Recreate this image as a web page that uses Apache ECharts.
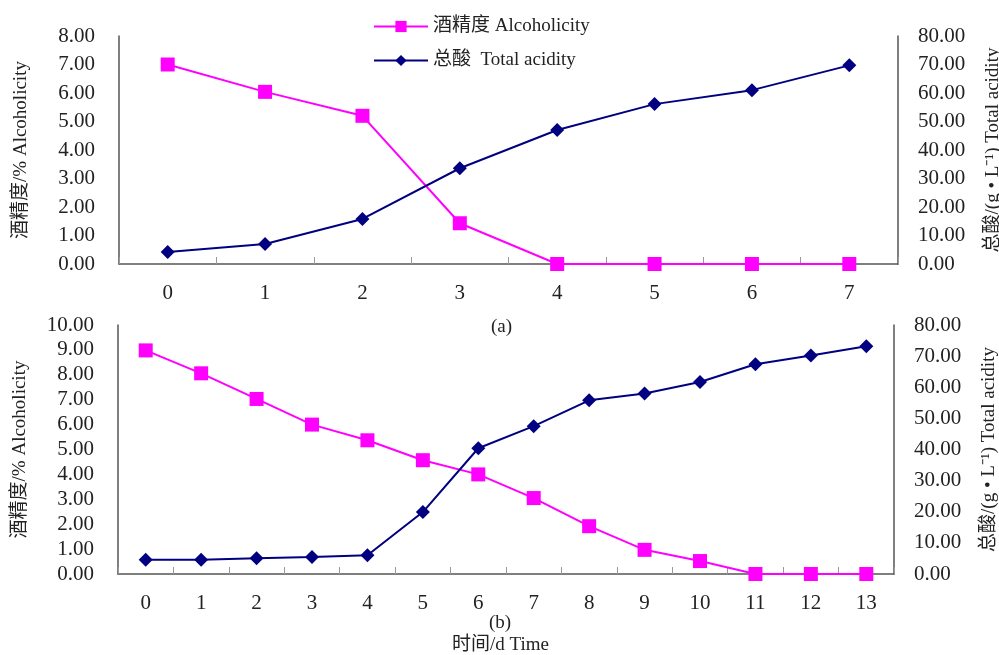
<!DOCTYPE html>
<html>
<head>
<meta charset="utf-8">
<script src="https://cdn.jsdelivr.net/npm/echarts@6/dist/echarts.min.js"></script>
<style>
html,body{margin:0;padding:0;background:#fff;}
#c{width:999px;height:655px;}
</style>
</head>
<body>
<div id="c"></div>
<script>
// Chart (a)
var daysA = ['0','1','2','3','4','5','6','7'];
var alcoholA = [7.00, 6.04, 5.20, 1.43, 0, 0, 0, 0];
var acidityA = [4.2, 7.0, 15.8, 33.6, 47.0, 56.1, 61.0, 69.7];
// Chart (b)
var daysB = ['0','1','2','3','4','5','6','7','8','9','10','11','12','13'];
var alcoholB = [8.98, 8.06, 7.03, 6.00, 5.37, 4.57, 4.00, 3.05, 1.92, 0.97, 0.52, 0, 0, 0];
var acidityB = [4.6, 4.6, 5.1, 5.5, 6.0, 19.9, 40.4, 47.5, 55.8, 58.0, 61.7, 67.4, 70.2, 73.2];
// tick settings
var leftMaxA = 8, leftMaxB = 10, rightMax = 80;

var nameAlc = '酒精度 Alcoholicity';
var nameAcid = '总酸  Total acidity';

var FONT = '"Liberation Serif", "Noto Sans CJK SC", serif';
var axisColor = '#555';
var txt = '#222';

function xAx(idx, data) {
  return {
    type: 'category', gridIndex: idx, data: data, boundaryGap: true,
    axisLine: {show: true, lineStyle: {color: axisColor, width: 1.5}},
    axisTick: {show: true, inside: true, length: 7, lineStyle: {color: '#999'}},
    axisLabel: {color: txt, fontFamily: FONT, fontSize: 21, margin: 19},
    splitLine: {show: false}
  };
}
function yAx(idx, max, interval, pos, name, gap) {
  return {
    type: 'value', gridIndex: idx, min: 0, max: max, interval: interval, position: pos,
    name: name, nameLocation: 'middle', nameGap: gap, nameRotate: 90,
    nameTextStyle: {color: txt, fontFamily: FONT, fontSize: 19},
    axisLine: {show: true, lineStyle: {color: axisColor, width: 1.5}},
    axisTick: {show: false},
    axisLabel: {color: txt, fontFamily: FONT, fontSize: 21, margin: pos === 'left' ? 24 : 20,
      formatter: function (v) { return v.toFixed(2); }},
    splitLine: {show: false}
  };
}
function lineS(name, xi, yi, data, color, symbol, size) {
  return {
    name: name, type: 'line', xAxisIndex: xi, yAxisIndex: yi, data: data,
    symbol: symbol, symbolSize: size, showSymbol: true,
    lineStyle: {color: color, width: 2}, itemStyle: {color: color},
    emphasis: {disabled: true}, animation: false, z: symbol === 'rect' ? 3 : 4
  };
}

var chart = echarts.init(document.getElementById('c'), null, {renderer: 'canvas'});
chart.setOption({
  backgroundColor: '#fff',
  animation: false,
  legend: {
    orient: 'vertical', left: 368, top: 12, itemWidth: 54, itemHeight: 14, itemGap: 15,
    textStyle: {color: txt, fontFamily: FONT, fontSize: 19},
    data: [nameAlc, nameAcid]
  },
  grid: [
    {left: 119, right: 101, top: 36, height: 228, containLabel: false, outerBoundsMode: 'none'},
    {left: 118, right: 105, top: 325, height: 249, containLabel: false, outerBoundsMode: 'none'}
  ],
  xAxis: [xAx(0, daysA), xAx(1, daysB)],
  yAxis: [
    yAx(0, leftMaxA, 1, 'left', '酒精度/% Alcoholicity', 88),
    yAx(0, rightMax, 10, 'right', '总酸/(g • L⁻¹) Total acidity', 86),
    yAx(1, leftMaxB, 1, 'left', '酒精度/% Alcoholicity', 88),
    yAx(1, rightMax, 10, 'right', '总酸/(g • L⁻¹) Total acidity', 86)
  ],
  series: [
    lineS(nameAlc, 0, 0, alcoholA, '#FF00FF', 'rect', 14),
    lineS(nameAcid, 0, 1, acidityA, '#000080', 'diamond', 14),
    lineS(nameAlc, 1, 2, alcoholB, '#FF00FF', 'rect', 14),
    lineS(nameAcid, 1, 3, acidityB, '#000080', 'diamond', 14)
  ],
  graphic: [
    {type: 'text', left: 491, top: 318, style: {text: '(a)', fill: txt, font: '19px ' + FONT}},
    {type: 'text', left: 489, top: 614, style: {text: '(b)', fill: txt, font: '19px ' + FONT}},
    {type: 'text', left: 452, top: 636, style: {text: '时间/d Time', fill: txt, font: '19px ' + FONT}}
  ]
});
</script>
</body>
</html>
